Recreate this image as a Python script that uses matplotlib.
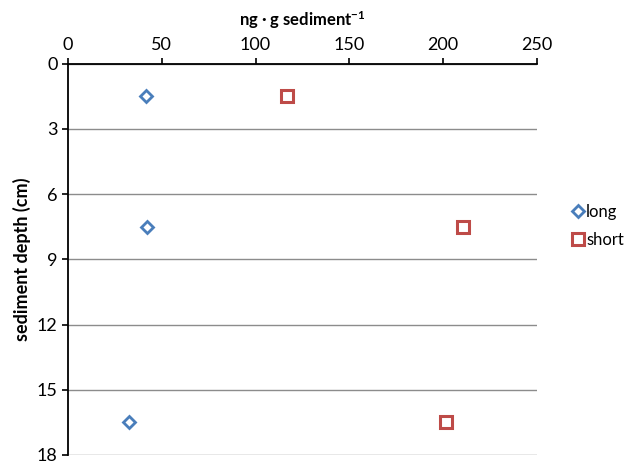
import matplotlib.pyplot as plt

plt.rcParams['font.family'] = ['Lato', 'DejaVu Sans']
plt.rcParams['mathtext.default'] = 'regular'

depth = [1.5, 7.5, 16.5]
long_vals = [41.5, 42, 32.5]
short_vals = [117, 210.5, 201.5]


def main():
    fig = plt.figure(figsize=(6.3, 4.63), dpi=100)
    ax = fig.add_axes([0.108, 0.0173, 0.744, 0.845])

    ax.plot(long_vals, depth, linestyle='none', marker='D', markersize=6,
            markerfacecolor='white', markeredgecolor='#4a7ebb', markeredgewidth=2,
            label='long')
    ax.plot(short_vals, depth, linestyle='none', marker='s', markersize=8,
            markerfacecolor='white', markeredgecolor='#be4b48', markeredgewidth=2.2,
            label='short')

    ax.set_xlim(0, 250)
    ax.set_ylim(18, 0)
    ax.set_xticks(range(0, 251, 50))
    ax.set_yticks(range(0, 19, 3))
    ax.xaxis.tick_top()
    ax.xaxis.set_label_position('top')
    ax.set_xlabel('ng · g sediment$^{-1}$', fontsize=12, fontweight='bold', labelpad=8)
    ax.set_ylabel('sediment depth (cm)', fontsize=13, fontweight='bold', labelpad=4)
    ax.tick_params(axis='both', labelsize=13, length=4, width=1.2, direction='out')
    ax.tick_params(axis='x', pad=4)

    ax.yaxis.grid(True, color='#8c8c8c', linewidth=1)
    ax.set_axisbelow(True)
    ax.spines['right'].set_visible(False)
    ax.spines['bottom'].set_visible(False)
    ax.spines['top'].set_linewidth(1.3)
    ax.spines['left'].set_linewidth(1.3)

    ax.legend(loc='center left', bbox_to_anchor=(1.07, 0.586), frameon=False,
              fontsize=12, handletextpad=0.0, labelspacing=0.7, handlelength=1.0,
              borderaxespad=0, borderpad=0)

    fig.savefig('out.png', dpi=100)


if __name__ == '__main__':
    main()
